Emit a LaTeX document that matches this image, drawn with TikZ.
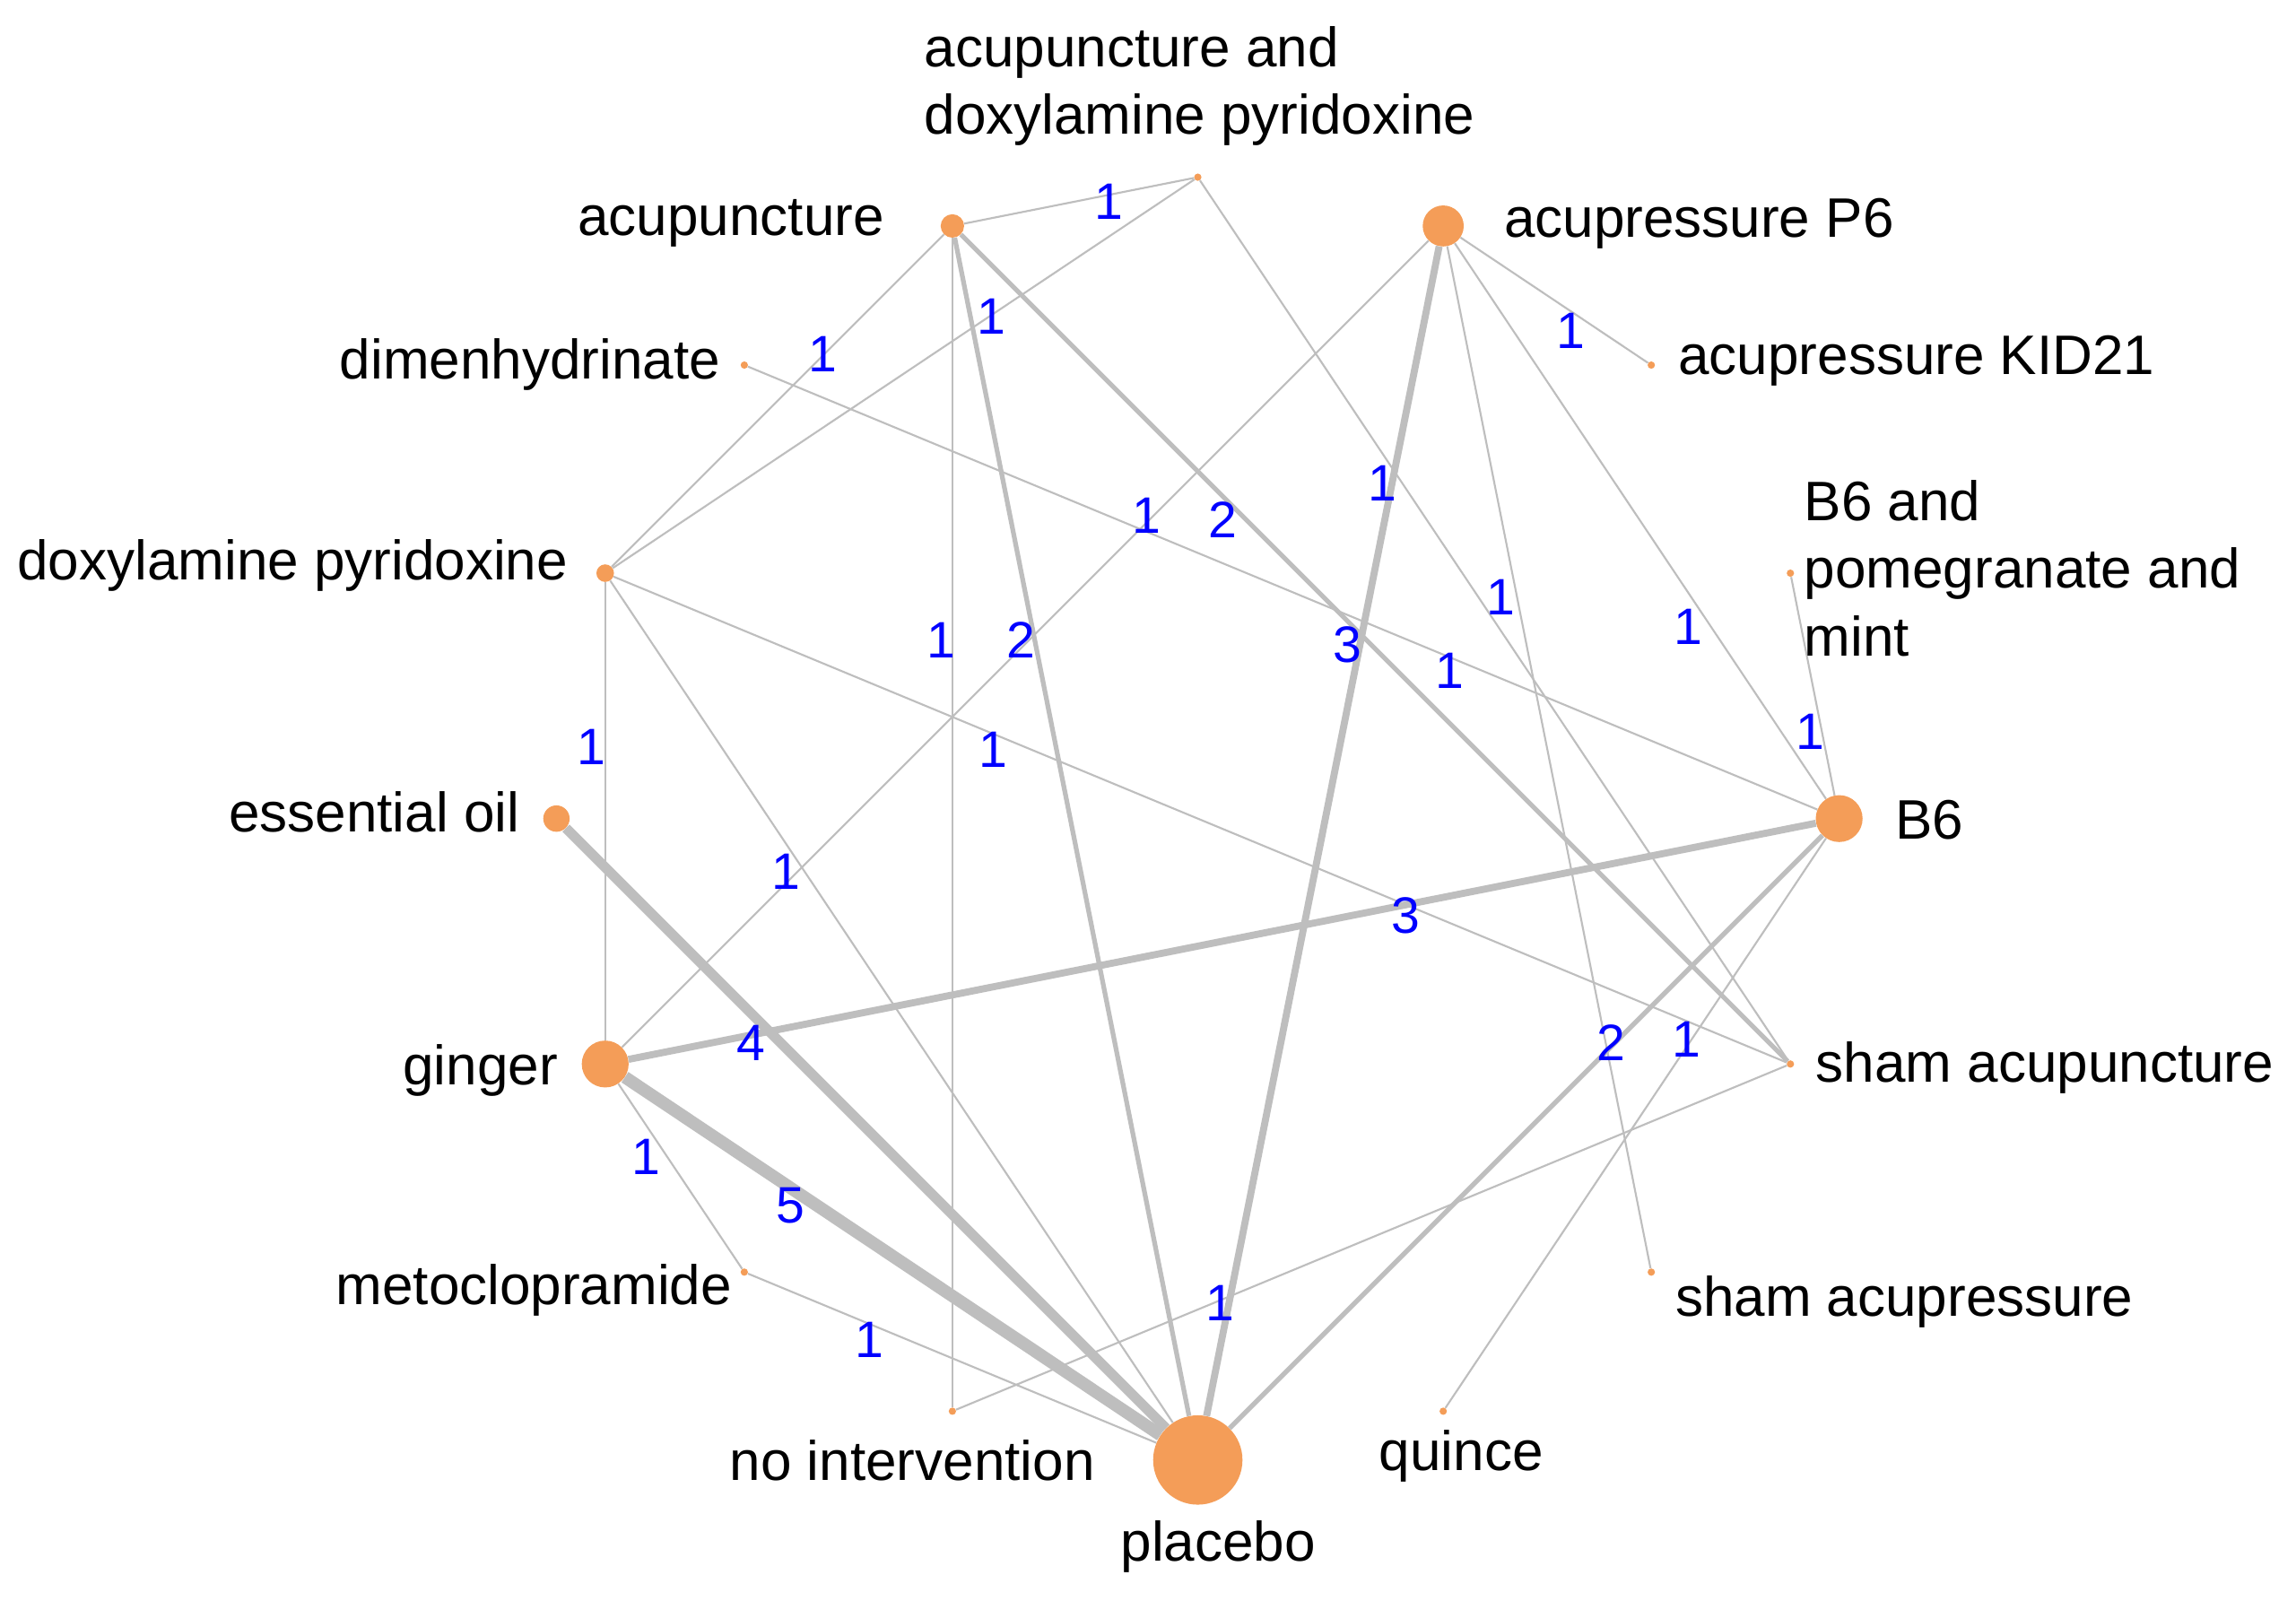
\documentclass[tikz,border=0pt]{standalone}
\usepackage{fontspec}
\setmainfont{Liberation Sans}
\definecolor{dotc}{RGB}{244,157,88}
\definecolor{linec}{RGB}{190,190,190}
\definecolor{numc}{RGB}{0,0,255}
\begin{document}
\begin{tikzpicture}[x=1pt,y=-1pt,
  dot/.style={circle,fill=dotc,draw=none,inner sep=0pt,minimum size=#1},
  conn/.style={draw=linec,line width=#1},
  tlab/.style={font=\fontsize{38}{46}\selectfont,inner sep=0pt,align=left},
  num/.style={font=\fontsize{35}{40}\selectfont,text=numc,inner sep=0pt}]
\useasboundingbox[fill=white] (0,0) rectangle (1568,1093);

% treatment dots (on a circle, centre (818,559), radius 438)
\node[dot=5pt]  (acd)  at (818.0,121.0) {};
\node[dot=16pt] (acu)  at (650.4,154.3) {};
\node[dot=28pt] (p6)   at (985.6,154.3) {};
\node[dot=5pt]  (kid)  at (1127.7,249.3) {};
\node[dot=5pt]  (dim)  at (508.3,249.3) {};
\node[dot=5pt]  (bpm)  at (1222.7,391.4) {};
\node[dot=12pt] (dox)  at (413.3,391.4) {};
\node[dot=18pt] (eo)   at (380.0,559.0) {};
\node[dot=32pt] (b6)   at (1256.0,559.0) {};
\node[dot=32pt] (gin)  at (413.3,726.6) {};
\node[dot=5pt]  (sacu) at (1222.7,726.6) {};
\node[dot=5pt]  (met)  at (508.3,868.7) {};
\node[dot=5pt]  (sacp) at (1127.7,868.7) {};
\node[dot=5pt]  (noi)  at (650.4,963.7) {};
\node[dot=5pt]  (qui)  at (985.6,963.7) {};
\node[dot=61pt] (pla)  at (818.0,997.0) {};

% connectors
\draw[conn=1.3pt] (acu) -- (acd);
\draw[conn=1.3pt] (acd) -- (dox);
\draw[conn=1.3pt] (acu) -- (dox);
\draw[conn=1.3pt] (p6) -- (kid);
\draw[conn=1.3pt] (acd) -- (sacu);
\draw[conn=3.2pt] (acu) -- (sacu);
\draw[conn=1.3pt] (gin) -- (p6);
\draw[conn=1.3pt] (p6) -- (sacp);
\draw[conn=1.3pt] (p6) -- (b6);
\draw[conn=4.8pt] (p6) -- (pla);
\draw[conn=3.2pt] (acu) -- (pla);
\draw[conn=1.3pt] (acu) -- (noi);
\draw[conn=1.3pt] (dim) -- (b6);
\draw[conn=1.3pt] (dox) -- (gin);
\draw[conn=1.3pt] (dox) -- (sacu);
\draw[conn=1.3pt] (bpm) -- (b6);
\draw[conn=1.3pt] (dox) -- (pla);
\draw[conn=4.8pt] (gin) -- (b6);
\draw[conn=6.8pt] (eo) -- (pla);
\draw[conn=3.2pt] (b6) -- (pla);
\draw[conn=1.3pt] (b6) -- (qui);
\draw[conn=1.3pt] (gin) -- (met);
\draw[conn=8.5pt] (gin) -- (pla);
\draw[conn=1.3pt] (met) -- (pla);
\draw[conn=1.3pt] (sacu) -- (noi);

% numbers of studies
\node[num] (n1)  at (757,138) {1};
\node[num] (n2)  at (677,216) {1};
\node[num] (n3)  at (562,242) {1};
\node[num] (n4)  at (1073,226) {1};
\node[num] (n5)  at (944,330) {1};
\node[num] (n6)  at (835,355) {2};
\node[num] (n7)  at (783,352) {1};
\node[num] (n8)  at (1025,408) {1};
\node[num] (n9)  at (1153,428) {1};
\node[num] (n10) at (920,440) {3};
\node[num] (n11) at (697,437) {2};
\node[num] (n12) at (643,437) {1};
\node[num] (n13) at (990,458) {1};
\node[num] (n14) at (404,510) {1};
\node[num] (n15) at (678,512) {1};
\node[num] (n16) at (1236,500) {1};
\node[num] (n17) at (537,595) {1};
\node[num] (n18) at (960,625) {3};
\node[num] (n19) at (513,712) {4};
\node[num] (n20) at (1100,712) {2};
\node[num] (n21) at (1152,710) {1};
\node[num] (n22) at (441,790) {1};
\node[num] (n23) at (540,823) {5};
\node[num] (n24) at (594,915) {1};
\node[num] (n25) at (833,890) {1};

% treatment names
\node[tlab,anchor=north west] (tacd) at (631,18) {acupuncture and\\doxylamine pyridoxine};
\node[tlab,anchor=base east] (tacu) at (604,161) {acupuncture};
\node[tlab,anchor=base west] (tp6) at (1027,162) {acupressure P6};
\node[tlab,anchor=base west] (tkid) at (1146,256) {acupressure KID21};
\node[tlab,anchor=base east] (tdim) at (492,259) {dimenhydrinate};
\node[tlab,anchor=north west] (tbpm) at (1232,328) {B6 and\\pomegranate and\\mint};
\node[tlab,anchor=base east] (tdox) at (388,396) {doxylamine pyridoxine};
\node[tlab,anchor=base east] (teo) at (355,568) {essential oil};
\node[tlab,anchor=base west] (tb6) at (1294,573) {B6};
\node[tlab,anchor=base east] (tgin) at (381,741) {ginger};
\node[tlab,anchor=base west] (tsacu) at (1240,739) {sham acupuncture};
\node[tlab,anchor=base east] (tmet) at (500,891) {metoclopramide};
\node[tlab,anchor=base west] (tsacp) at (1144,899) {sham acupressure};
\node[tlab,anchor=base] (tnoi) at (623,1011) {no intervention};
\node[tlab,anchor=base] (tqui) at (998,1004) {quince};
\node[tlab,anchor=base] (tpla) at (832,1066) {placebo};
\end{tikzpicture}
\end{document}
